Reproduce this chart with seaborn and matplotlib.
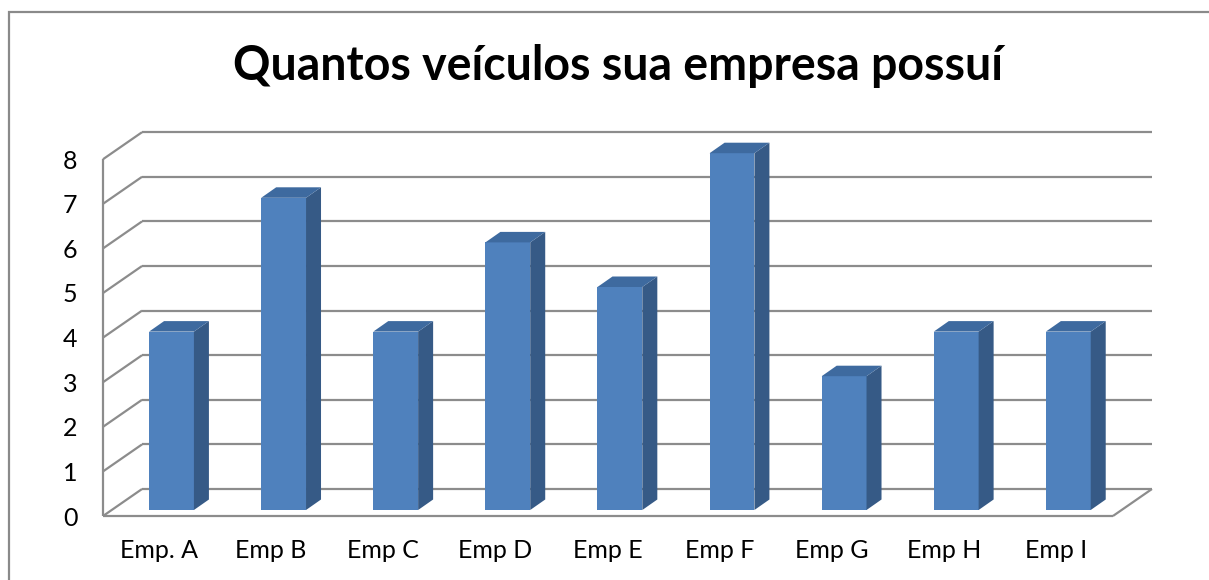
import matplotlib
matplotlib.use("Agg")
import matplotlib.pyplot as plt
import matplotlib.transforms as mtrans
from matplotlib.patches import Polygon, Rectangle
from matplotlib.lines import Line2D
import seaborn as sns
import pandas as pd

# ---- data ----
categories = ["Emp. A", "Emp B", "Emp C", "Emp D", "Emp E", "Emp F", "Emp G", "Emp H", "Emp I"]
values = [4, 7, 4, 6, 5, 8, 3, 4, 4]
yticks = [0, 1, 2, 3, 4, 5, 6, 7, 8]
title = "Quantos veículos sua empresa possuí"

# ---- style ----
sns.set_theme(style="white")
plt.rcParams["font.family"] = ["Lato", "DejaVu Sans"]

W, H, DPI = 1209, 580, 100
fig = plt.figure(figsize=(W / DPI, H / DPI), dpi=DPI)
fig.patch.set_facecolor("white")

FRONT = "#4F81BD"
SIDE = "#365A86"
TOP = "#3E6A9F"
GRID = "#8C8C8C"
IDENT = mtrans.IdentityTransform()

# axes placed on the bar "front plane"
x_left_px, x_right_px = 115.45, 1124.35
base_px, top_px = 510.0, 153.2
ax = fig.add_axes([x_left_px / W, (H - base_px) / H,
                   (x_right_px - x_left_px) / W, (base_px - top_px) / H])
for s in ax.spines.values():
    s.set_visible(False)
ax.set_facecolor("none")

df = pd.DataFrame({"cat": categories, "val": values})
sns.barplot(data=df, x="cat", y="val", color=FRONT, saturation=1, width=0.40,
            ax=ax, zorder=3, linewidth=0)
ax.set_xlim(-0.5, 8.5)
ax.set_ylim(0, 8)
ax.set_xlabel("")
ax.set_ylabel("")

# depth offsets in pixels (right, up) relative to bar front plane
FRONT_OFF = (-8.6, -6.0)
BACK_OFF = (30.4, 21.0)
BAR_DEPTH = (15.0, 10.5)
floor_l, floor_r = -0.534, 8.475


def disp(x, y, off=(0, 0)):
    px, py = ax.transData.transform((x, y))
    return px + off[0], py + off[1]


def line(p, q):
    ax.add_artist(Line2D([p[0], q[0]], [p[1], q[1]], transform=IDENT, clip_on=False,
                         color=GRID, lw=1.6, solid_capstyle="butt", zorder=1))


# walls & gridlines
for v in yticks:
    line(disp(floor_l, v, BACK_OFF), disp(floor_r, v, BACK_OFF))
    line(disp(floor_l, v, FRONT_OFF), disp(floor_l, v, BACK_OFF))
line(disp(floor_l, 0, FRONT_OFF), disp(floor_l, yticks[-1], FRONT_OFF))
line(disp(floor_l, 0, FRONT_OFF), disp(floor_r, 0, FRONT_OFF))
line(disp(floor_r, 0, FRONT_OFF), disp(floor_r, 0, BACK_OFF))

# 3D faces of bars
for p in list(ax.patches):
    x0, w, h = p.get_x(), p.get_width(), p.get_height()
    fl = disp(x0, h)
    fr = disp(x0 + w, h)
    br = disp(x0 + w, 0)
    dx, dy = BAR_DEPTH
    side = Polygon([br, fr, (fr[0] + dx, fr[1] + dy), (br[0] + dx, br[1] + dy)],
                   closed=True, transform=IDENT, clip_on=False,
                   facecolor=SIDE, edgecolor="none", zorder=4)
    top = Polygon([fl, fr, (fr[0] + dx, fr[1] + dy), (fl[0] + dx, fl[1] + dy)],
                  closed=True, transform=IDENT, clip_on=False,
                  facecolor=TOP, edgecolor="none", zorder=4)
    ax.add_artist(side)
    ax.add_artist(top)
    p.set_clip_on(False)

# ticks
ax.set_yticks(yticks)
ax.set_yticklabels([str(t) for t in yticks])
ax.tick_params(axis="both", length=0, labelsize=18, labelcolor="black")
ax.tick_params(axis="y", pad=27.5)
ax.tick_params(axis="x", pad=21)
for lab in ax.get_yticklabels():
    lab.set_transform(lab.get_transform() + mtrans.ScaledTranslation(0, -6 / DPI, fig.dpi_scale_trans))
for lab in ax.get_xticklabels():
    lab.set_transform(lab.get_transform() + mtrans.ScaledTranslation(-12.5 / DPI, 0, fig.dpi_scale_trans))

# title
fig.text(618 / W, 1 - 80 / H, title, ha="center", va="baseline",
         fontsize=33.5, fontweight="bold", color="black")

# chart border
fig.add_artist(Rectangle((9, -20), W + 40, (H - 12) + 20, transform=IDENT,
                         fill=False, edgecolor="#8A8A8A", lw=1.6, zorder=0))

fig.savefig("out.png", dpi=DPI, facecolor="white")
